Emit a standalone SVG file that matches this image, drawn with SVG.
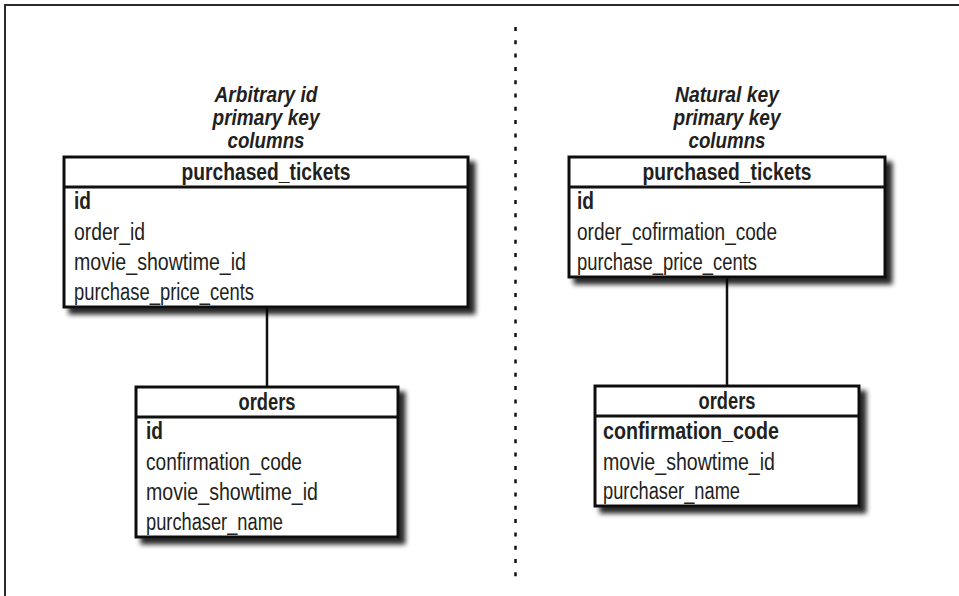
<svg xmlns="http://www.w3.org/2000/svg" width="959" height="596" viewBox="0 0 959 596">
  <style>
    .frame { fill: none; stroke: #2b2b2b; stroke-width: 2; }
    .box { fill: #ffffff; stroke: #111111; stroke-width: 3; }
    .rule { stroke: #111111; stroke-width: 3; }
    .link { stroke: #111111; stroke-width: 2.5; fill: none; }
    .divider { stroke: #111111; stroke-width: 2.5; stroke-dasharray: 4 9.3; fill: none; }
    text { font-family: "Liberation Sans", Arial, sans-serif; fill: #231f20; }
    .title { font-size: 22px; font-weight: bold; font-style: italic; text-anchor: middle; }
    .head { font-size: 23px; font-weight: bold; text-anchor: middle; }
    .col { font-size: 23px; }
    .key { font-size: 23px; font-weight: bold; }
  </style>
  <defs>
    <filter id="shadow" x="-10%" y="-10%" width="130%" height="140%">
      <feGaussianBlur in="SourceAlpha" stdDeviation="2.5" result="b"/>
      <feOffset in="b" dx="6" dy="6" result="o"/>
      <feComponentTransfer in="o" result="s">
        <feFuncA type="linear" slope="0.85"/>
      </feComponentTransfer>
      <feMerge>
        <feMergeNode in="s"/>
        <feMergeNode in="SourceGraphic"/>
      </feMerge>
    </filter>
  </defs>

  <rect width="959" height="596" fill="#ffffff"/>
  <!-- page frame: top and left edges -->
  <path class="frame" d="M5 596 V5 H959"/>

  <!-- connectors -->
  <g id="connectors">
    <line class="divider" x1="515.5" y1="27" x2="515.5" y2="582"/>
    <line class="link" x1="267" y1="307" x2="267" y2="387"/>
    <line class="link" x1="727" y1="278" x2="727" y2="386"/>
  </g>

  <!-- left: arbitrary id keys -->
  <g id="title-left">
    <text class="title" x="266" y="102" textLength="103" lengthAdjust="spacingAndGlyphs">Arbitrary id</text>
    <text class="title" x="266" y="125" textLength="107" lengthAdjust="spacingAndGlyphs">primary key</text>
    <text class="title" x="266" y="148" textLength="77" lengthAdjust="spacingAndGlyphs">columns</text>
  </g>

  <g id="tickets-left">
    <rect class="box" x="64" y="157" width="404" height="150" filter="url(#shadow)"/>
    <line class="rule" x1="64" y1="187" x2="468" y2="187"/>
    <text class="head" x="266" y="180" textLength="169" lengthAdjust="spacingAndGlyphs">purchased_tickets</text>
    <text class="key" x="74" y="209" textLength="17" lengthAdjust="spacingAndGlyphs">id</text>
    <text class="col" x="74" y="240" textLength="71" lengthAdjust="spacingAndGlyphs">order_id</text>
    <text class="col" x="74" y="270" textLength="172" lengthAdjust="spacingAndGlyphs">movie_showtime_id</text>
    <text class="col" x="74" y="300" textLength="180" lengthAdjust="spacingAndGlyphs">purchase_price_cents</text>
  </g>

  <g id="orders-left">
    <rect class="box" x="136" y="387" width="262" height="150" filter="url(#shadow)"/>
    <line class="rule" x1="136" y1="417" x2="398" y2="417"/>
    <text class="head" x="267" y="410" textLength="57" lengthAdjust="spacingAndGlyphs">orders</text>
    <text class="key" x="146" y="439" textLength="17" lengthAdjust="spacingAndGlyphs">id</text>
    <text class="col" x="146" y="470" textLength="156" lengthAdjust="spacingAndGlyphs">confirmation_code</text>
    <text class="col" x="146" y="500" textLength="172" lengthAdjust="spacingAndGlyphs">movie_showtime_id</text>
    <text class="col" x="146" y="530" textLength="137" lengthAdjust="spacingAndGlyphs">purchaser_name</text>
  </g>

  <!-- right: natural keys -->
  <g id="title-right">
    <text class="title" x="727" y="102" textLength="104" lengthAdjust="spacingAndGlyphs">Natural key</text>
    <text class="title" x="727" y="125" textLength="107" lengthAdjust="spacingAndGlyphs">primary key</text>
    <text class="title" x="727" y="148" textLength="77" lengthAdjust="spacingAndGlyphs">columns</text>
  </g>

  <g id="tickets-right">
    <rect class="box" x="569" y="157" width="316" height="120" filter="url(#shadow)"/>
    <line class="rule" x1="569" y1="187" x2="885" y2="187"/>
    <text class="head" x="727" y="180" textLength="169" lengthAdjust="spacingAndGlyphs">purchased_tickets</text>
    <text class="key" x="577" y="209" textLength="17" lengthAdjust="spacingAndGlyphs">id</text>
    <text class="col" x="577" y="240" textLength="200" lengthAdjust="spacingAndGlyphs">order_cofirmation_code</text>
    <text class="col" x="577" y="270" textLength="180" lengthAdjust="spacingAndGlyphs">purchase_price_cents</text>
  </g>

  <g id="orders-right">
    <rect class="box" x="595" y="386" width="264" height="120" filter="url(#shadow)"/>
    <line class="rule" x1="595" y1="416" x2="859" y2="416"/>
    <text class="head" x="727" y="409" textLength="57" lengthAdjust="spacingAndGlyphs">orders</text>
    <text class="key" x="603" y="439" textLength="176" lengthAdjust="spacingAndGlyphs">confirmation_code</text>
    <text class="col" x="603" y="470" textLength="172" lengthAdjust="spacingAndGlyphs">movie_showtime_id</text>
    <text class="col" x="603" y="499" textLength="137" lengthAdjust="spacingAndGlyphs">purchaser_name</text>
  </g>
</svg>
